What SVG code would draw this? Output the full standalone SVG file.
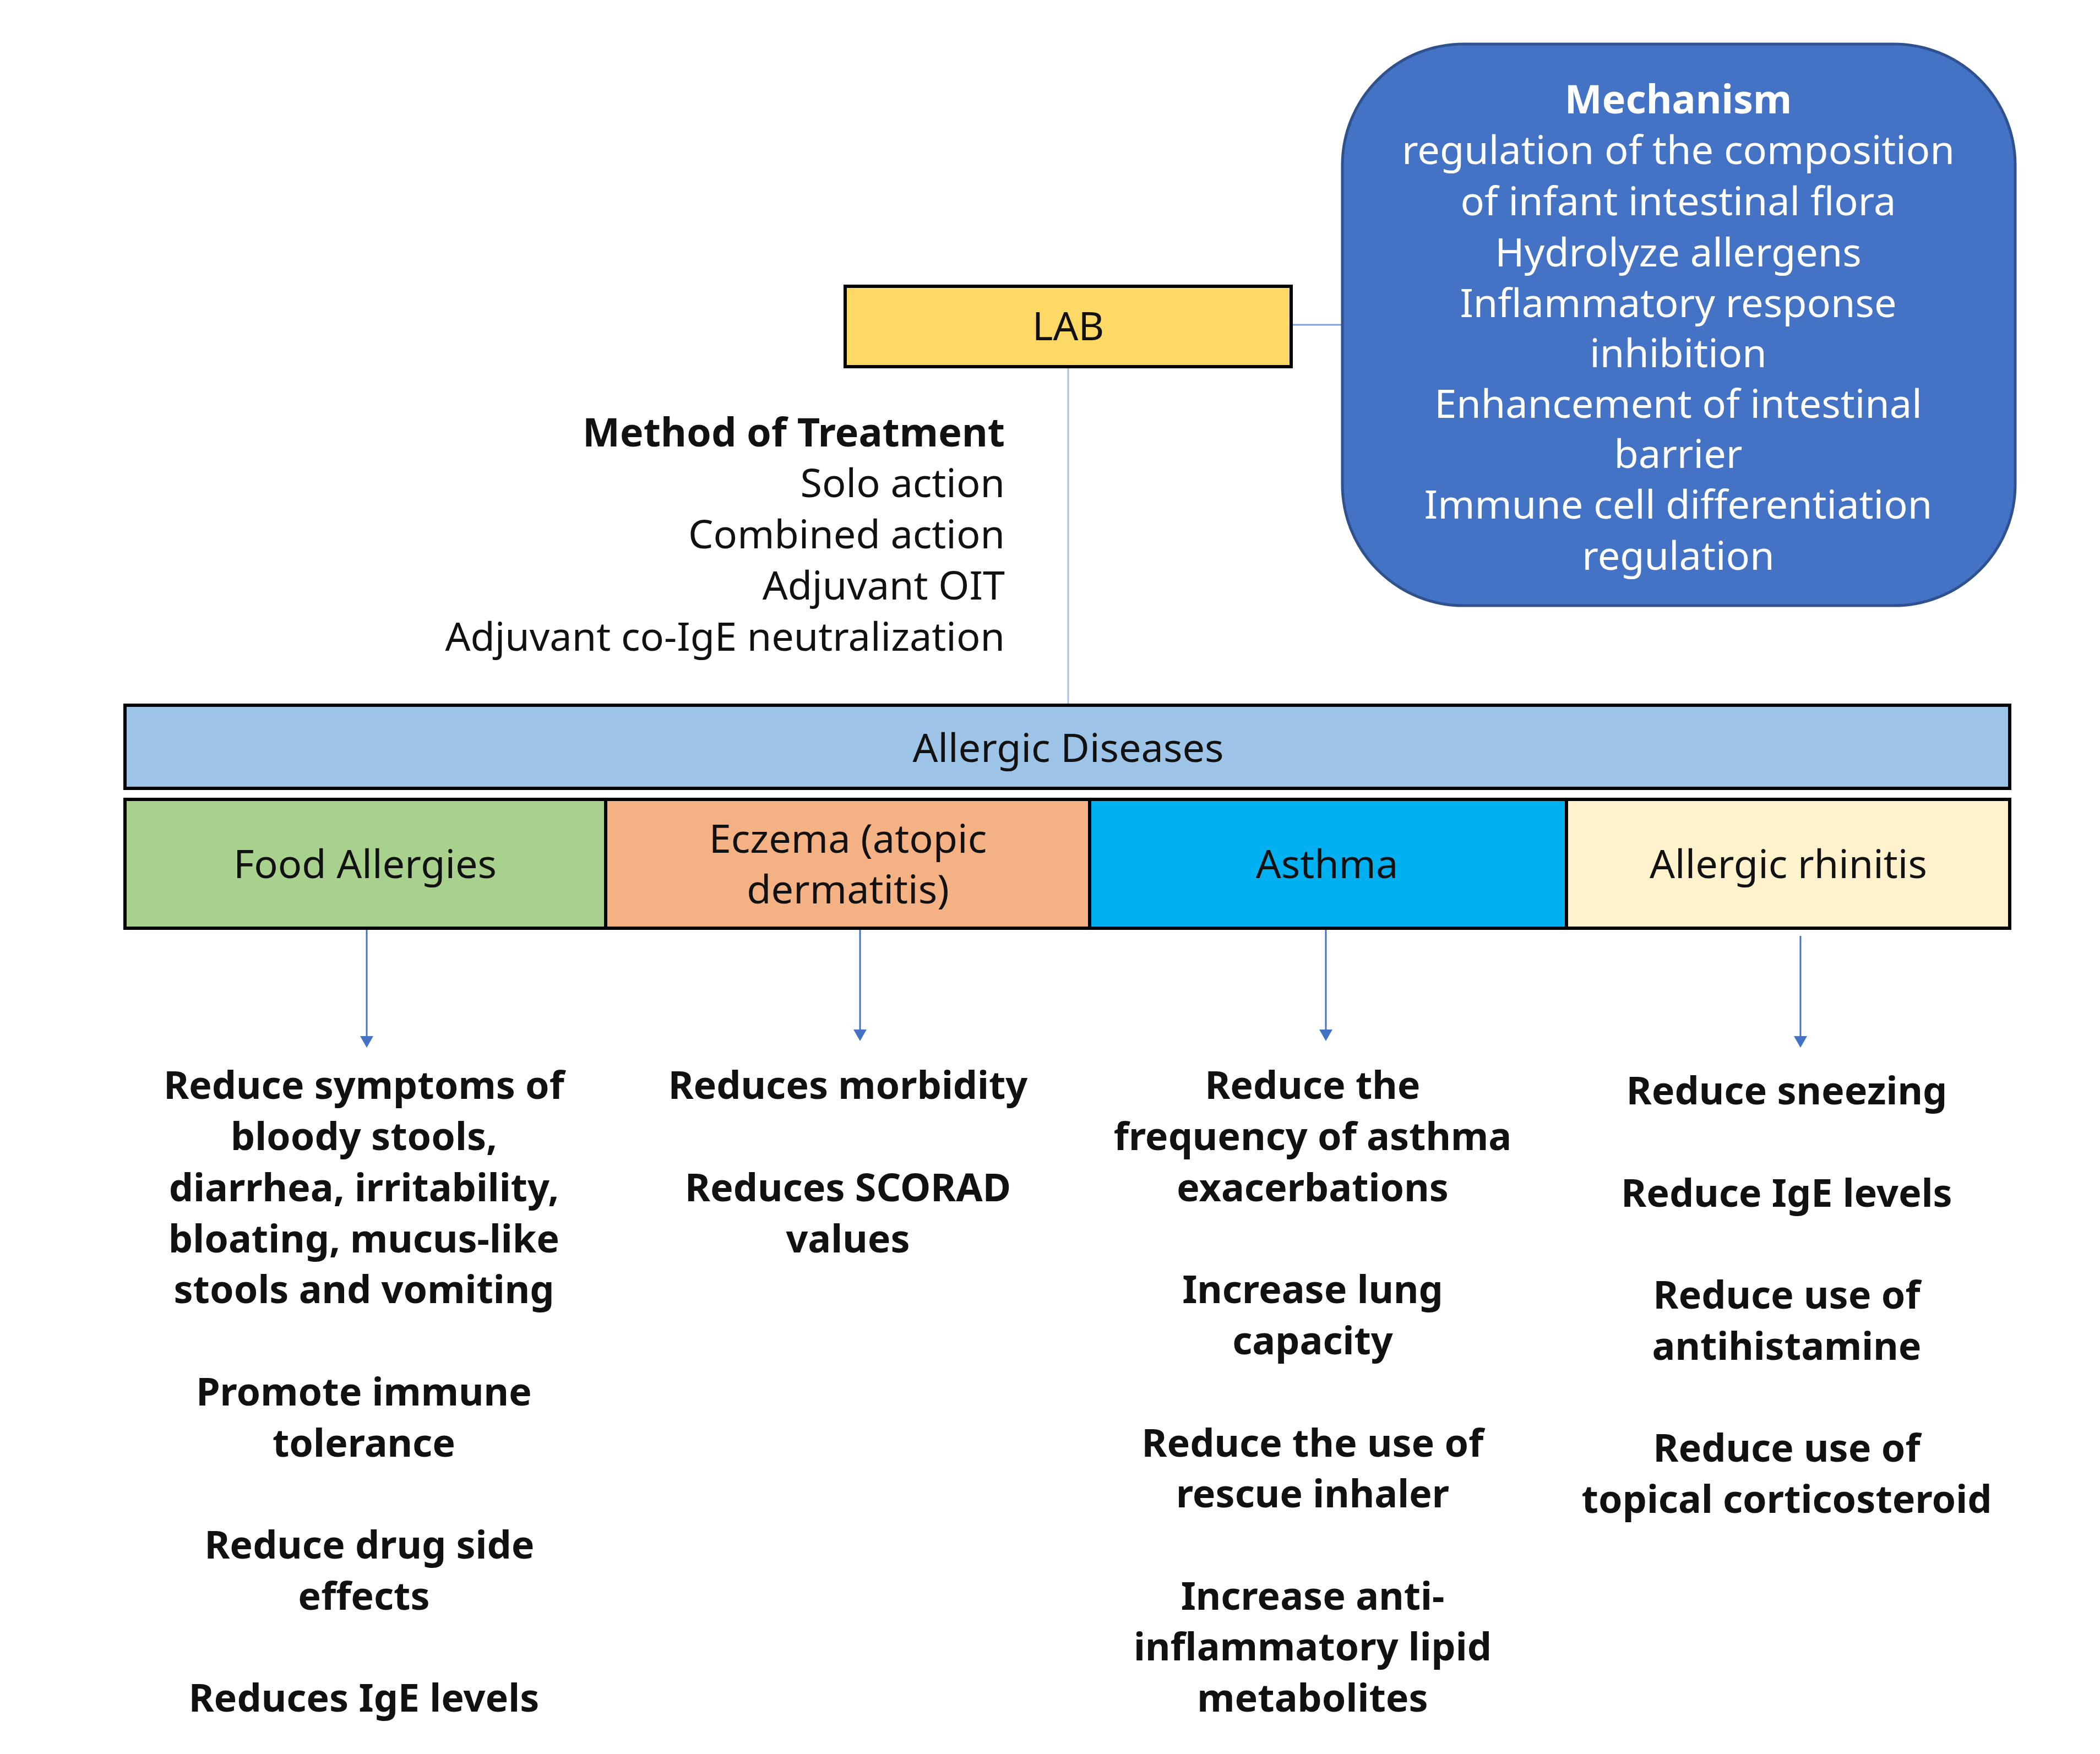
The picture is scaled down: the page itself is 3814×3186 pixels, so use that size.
<svg xmlns="http://www.w3.org/2000/svg" width="3814" height="3186" viewBox="0 0 3814 3186">
<defs>
<style>
text{font-family:"Noto Sans","Open Sans","DejaVu Sans",sans-serif;text-anchor:middle}
.n{font-size:72px;fill:#111}
.b{font-size:70px;font-weight:bold;fill:#111}
.w{font-size:72px;fill:#fff}
.box{stroke:#000;stroke-width:6}
.ln{stroke:#A9C0E8;stroke-width:3;fill:none}
.ar{stroke:#4472C4;stroke-width:3;fill:none;marker-end:url(#ah)}
</style>
<marker id="ah" markerWidth="8" markerHeight="8" refX="6" refY="4" orient="auto" markerUnits="strokeWidth"><path d="M0,0 L7,4 L0,8 z" fill="#4472C4"/></marker>
</defs>
<rect width="3814" height="3186" fill="#fff"/>
<g id="connectors">
<line class="ln" x1="1940" y1="666" x2="1940" y2="1279"/>
<line x1="2345" y1="590" x2="2438" y2="590" stroke="#7F9FD8" stroke-width="3"/>
<line class="ar" x1="666" y1="1689" x2="666" y2="1900"/>
<line class="ar" x1="1562" y1="1689" x2="1562" y2="1888"/>
<line class="ar" x1="2408" y1="1689" x2="2408" y2="1888"/>
<line class="ar" x1="3270" y1="1700" x2="3270" y2="1900"/>
</g>
<g id="lab"><rect class="box" x="1535" y="520" width="810" height="146" fill="#FFD966"/><text class="n" x="1940" y="618">LAB</text></g>
<g id="mechanism"><rect x="2438" y="80" width="1222" height="1020" rx="220" fill="#4472C4" stroke="#2F528F" stroke-width="5"/>
<text class="w" x="3048" y="206" font-weight="bold">Mechanism</text>
<text class="w" x="3048" y="298">regulation of the composition</text>
<text class="w" x="3048" y="391">of infant intestinal flora</text>
<text class="w" x="3048" y="484">Hydrolyze allergens</text>
<text class="w" x="3048" y="576">Inflammatory response</text>
<text class="w" x="3048" y="667">inhibition</text>
<text class="w" x="3048" y="759">Enhancement of intestinal</text>
<text class="w" x="3048" y="850">barrier</text>
<text class="w" x="3048" y="942">Immune cell differentiation</text>
<text class="w" x="3048" y="1035">regulation</text></g>
<g id="method" style="text-anchor:end">
<text class="n" x="1825" y="811" font-weight="bold" style="text-anchor:end">Method of Treatment</text>
<text class="n" x="1825" y="903" style="text-anchor:end">Solo action</text>
<text class="n" x="1825" y="996" style="text-anchor:end">Combined action</text>
<text class="n" x="1825" y="1089" style="text-anchor:end">Adjuvant OIT</text>
<text class="n" x="1825" y="1182" style="text-anchor:end">Adjuvant co-IgE neutralization</text></g>
<g id="allergic"><rect class="box" x="227" y="1281" width="3423" height="151" fill="#9DC3E6"/><text class="n" x="1940" y="1384">Allergic Diseases</text></g>
<g id="food"><rect class="box" x="227" y="1452" width="873" height="234" fill="#A9D18E"/><text class="n" x="663" y="1595">Food Allergies</text></g>
<g id="eczema"><rect class="box" x="1100" y="1452" width="879" height="234" fill="#F4B183"/><text class="n" x="1540" y="1549">Eczema (atopic</text><text class="n" x="1540" y="1641">dermatitis)</text></g>
<g id="asthma"><rect class="box" x="1979" y="1452" width="866" height="234" fill="#00B0F0"/><text class="n" x="2410" y="1595">Asthma</text></g>
<g id="rhinitis"><rect class="box" x="2845" y="1452" width="805" height="234" fill="#FFF2CC"/><text class="n" x="3248" y="1595">Allergic rhinitis</text></g>
<g id="food-effects">
<text class="b" x="661" y="1996">Reduce symptoms of</text>
<text class="b" x="661" y="2089">bloody stools,</text>
<text class="b" x="661" y="2182">diarrhea, irritability,</text>
<text class="b" x="661" y="2275">bloating, mucus-like</text>
<text class="b" x="661" y="2367">stools and vomiting</text>
<text class="b" x="661" y="2553">Promote immune</text>
<text class="b" x="661" y="2646">tolerance</text>
<text class="b" x="671" y="2831">Reduce drug side</text>
<text class="b" x="661" y="2924">effects</text>
<text class="b" x="661" y="3109">Reduces IgE levels</text></g>
<g id="eczema-effects">
<text class="b" x="1540" y="1996">Reduces morbidity</text>
<text class="b" x="1540" y="2182">Reduces SCORAD</text>
<text class="b" x="1540" y="2275">values</text></g>
<g id="asthma-effects">
<text class="b" x="2384" y="1996">Reduce the</text>
<text class="b" x="2384" y="2089">frequency of asthma</text>
<text class="b" x="2384" y="2182">exacerbations</text>
<text class="b" x="2384" y="2367">Increase lung</text>
<text class="b" x="2384" y="2460">capacity</text>
<text class="b" x="2384" y="2646">Reduce the use of</text>
<text class="b" x="2384" y="2738">rescue inhaler</text>
<text class="b" x="2384" y="2924">Increase anti-</text>
<text class="b" x="2384" y="3016">inflammatory lipid</text>
<text class="b" x="2384" y="3109">metabolites</text></g>
<g id="rhinitis-effects">
<text class="b" x="3245" y="2006">Reduce sneezing</text>
<text class="b" x="3245" y="2192">Reduce IgE levels</text>
<text class="b" x="3245" y="2377">Reduce use of</text>
<text class="b" x="3245" y="2470">antihistamine</text>
<text class="b" x="3245" y="2655">Reduce use of</text>
<text class="b" x="3245" y="2748">topical corticosteroid</text></g>
</svg>
